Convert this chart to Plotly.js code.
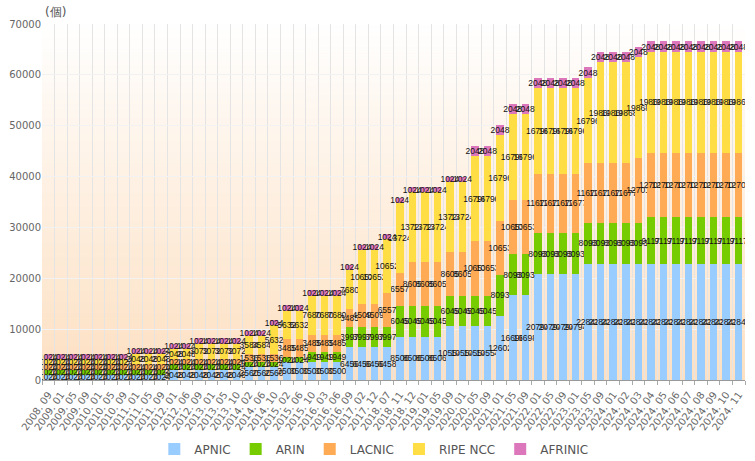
<!DOCTYPE html>
<html><head><meta charset="utf-8">
<script src="https://cdn.plot.ly/plotly-3.0.1.min.js"></script>
<style>html,body{margin:0;padding:0;background:#fff}#chart{width:755px;height:461px}</style>
</head><body><div id="chart"></div>
<script>
const categories = ["2008. 09","2009. 01","2009. 05","2009. 09","2010. 01","2010. 05","2010. 09","2011. 01","2011. 05","2011. 09",
"2012. 01","2012. 06","2012. 09","2013. 01","2013. 05","2013. 10","2014. 02","2014. 06","2014. 10","2015. 02",
"2015. 06","2015. 10","2016. 03","2016. 06","2016. 09","2017. 02","2017. 12","2018. 07","2018. 11","2018. 12",
"2019. 01","2019. 05","2019. 09","2020. 01","2020. 05","2020. 09","2021. 01","2021. 05","2021. 09","2022. 01",
"2022. 05","2022. 09","2023. 01","2023. 05","2023. 09","2024. 01","2024. 02","2024. 03","2024. 04","2024. 05",
"2024. 06","2024. 07","2024. 08","2024. 09","2024. 10","2024. 11"];

const apnic = [1024,1024,1024,1024,1024,1024,1024,1024,1024,1024,
2048,2048,2048,2048,2048,2048,2560,2560,2560,3500,
3500,3500,3500,3500,6456,6456,6456,6458,8506,8506,
8506,8506,10554,10554,10554,10554,12602,16698,16698,20794,
20794,20794,20794,22842,22842,22842,22842,22842,22842,22842,
22842,22842,22842,22842,22842,22842];

const arin = [1024,1024,1024,1024,1024,1024,1024,1024,1024,1024,
1024,1024,1024,1024,1024,1024,1024,1024,1024,1024,
1024,1949,1949,1949,3997,3997,3997,3997,6045,6045,
6045,6045,6045,6045,6045,6045,8093,8093,8093,8093,
8093,8093,8093,8093,8093,8093,8093,8093,9117,9117,
9117,9117,9117,9117,9117,9117];

const lacnic = [1024,1024,1024,1024,1024,1024,1024,1024,1024,1024,
1024,1024,1024,1024,1024,1024,1536,1536,1536,3485,
3485,3485,3485,3485,3485,4509,4509,6557,6557,8605,
8605,8605,8605,8605,10653,10653,10653,10653,10653,11677,
11677,11677,11677,11677,11677,11677,11677,12701,12701,12701,
12701,12701,12701,12701,12701,12701];

const ripe = [1024,1024,1024,1024,1024,1024,1024,2048,2048,2048,
2048,2048,3072,3072,3072,3072,3584,3584,5632,5632,
5632,7680,7680,7680,7680,10652,10652,10652,13724,13724,
13724,13724,13724,13724,16796,16796,16796,16796,16796,16796,
16796,16796,16796,16796,19868,19868,19868,19868,19868,19868,
19868,19868,19868,19868,19868,19868];

const afrinic = [1024,1024,1024,1024,1024,1024,1024,1024,1024,1024,
1024,1024,1024,1024,1024,1024,1024,1024,1024,1024,
1024,1024,1024,1024,1024,1024,1024,1024,1024,1024,
1024,1024,1024,1024,2048,2048,2048,2048,2048,2048,
2048,2048,2048,2048,2048,2048,2048,2048,2048,2048,
2048,2048,2048,2048,2048,2048];

const seriesNames = ["APNIC","ARIN","LACNIC","RIPE NCC","AFRINIC"];
const seriesColors = ["#99ccff","#77cc00","#ffaa55","#ffdd44","#dd77bb"];
const seriesValues = [apnic, arin, lacnic, ripe, afrinic];

function gradientURL(){
  const c = document.createElement('canvas');
  c.width = 4; c.height = 512;
  const g = c.getContext('2d');
  const gr = g.createLinearGradient(0,0,0,512);
  gr.addColorStop(0,'#ffffff');
  gr.addColorStop(1,'#fde0c2');
  g.fillStyle = gr; g.fillRect(0,0,4,512);
  return c.toDataURL();
}

const traces = seriesNames.map((n,i)=>({
  type:'bar', name:n, x:categories, y:seriesValues[i],
  marker:{color:seriesColors[i], line:{width:0}},
  text:seriesValues[i].map(String),
  textposition:'inside', insidetextanchor:'middle', textangle:0,
  constraintext:'none',
  textfont:{family:'Liberation Sans, Arial, sans-serif', size:8.5, color:'#111'},
  hoverinfo:'x+y+name'
}));

const layout = {
  width:755, height:461,
  margin:{l:42, r:10, t:24, b:81, autoexpand:false},
  barmode:'stack', bargap:0.4,
  paper_bgcolor:'#ffffff', plot_bgcolor:'rgba(0,0,0,0)',
  font:{family:'DejaVu Sans, Verdana, sans-serif', color:'#666', size:10},
  uniformtext:{minsize:8.5, mode:'show'},
  showlegend:true,
  legend:{orientation:'h', x:0.472, xanchor:'center', xref:'paper',
          y:0.026, yref:'container', yanchor:'middle',
          font:{size:12, color:'#555'}, itemwidth:30, traceorder:'normal'},
  xaxis:{type:'category', tickmode:'linear', tick0:0, dtick:1,
         tickson:'boundaries', ticks:'outside', ticklen:4, tickcolor:'#aaa',
         showgrid:true, gridcolor:'#e4e4e4', gridwidth:1, tickangle:-55, ticklabelstandoff:4,
         showline:true, linecolor:'#999', linewidth:1, tickfont:{size:10, color:'#666'}, automargin:false},
  yaxis:{range:[0,70000], dtick:10000, showgrid:true, gridcolor:'#f2f2f2', zeroline:false,
         showline:false, ticks:'', tickfont:{size:10, color:'#666'}, tickformat:'d', automargin:false},
  images:[{source:gradientURL(), xref:'paper', yref:'paper', x:0, y:1, sizex:1, sizey:1,
           sizing:'stretch', xanchor:'left', yanchor:'top', layer:'below'}],
  annotations:[{text:'(個)', xref:'paper', yref:'paper', x:0, y:1, xanchor:'left', yanchor:'bottom',
                xshift:1, yshift:3, showarrow:false, font:{size:12, color:'#555'}}]
};

Plotly.newPlot('chart', traces, layout, {displayModeBar:false, staticPlot:true});
</script>
</body></html>
